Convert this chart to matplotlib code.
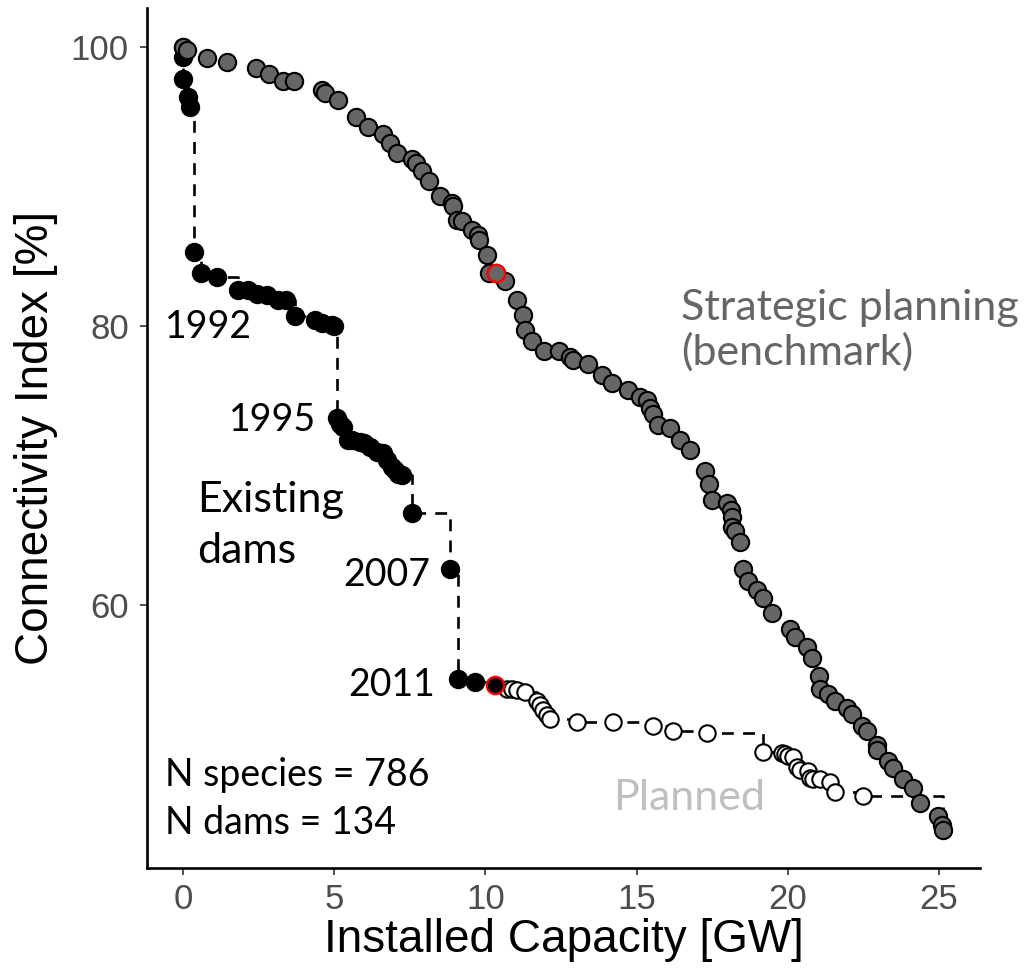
import numpy as np
import matplotlib.pyplot as plt

# strategic planning (benchmark) - installed capacity [GW] / connectivity index [%]
strat_x = [0.0, 0.12, 0.78, 1.46, 2.40, 2.85, 3.30, 3.67, 4.59, 4.70, 5.14, 5.72, 6.13,
           6.62, 6.85, 7.09, 7.56, 7.70, 7.89, 8.14, 8.50, 8.89, 8.94, 9.05, 9.22, 9.55,
           9.77, 9.80, 10.06, 10.13, 10.35, 10.65, 11.04, 11.23, 11.31, 11.53, 11.94,
           12.44, 12.80, 12.91, 13.40, 13.85, 14.18, 14.73, 15.11, 15.33, 15.44, 15.55,
           15.72, 16.10, 16.44, 16.77, 17.26, 17.40, 17.48, 17.98, 18.11, 18.14, 18.14,
           18.25, 18.42, 18.53, 18.69, 18.97, 19.19, 19.47, 20.07, 20.24, 20.63, 20.79,
           21.04, 21.06, 21.34, 21.56, 21.95, 22.11, 22.44, 22.61, 22.94, 22.94, 23.32,
           23.49, 23.82, 24.15, 24.37, 24.98, 25.09, 25.14]
strat_y = [100.0, 99.8, 99.2, 98.9, 98.5, 98.1, 97.6, 97.6, 96.9, 96.7, 96.2, 95.0, 94.3,
           93.8, 93.1, 92.4, 92.0, 91.7, 91.1, 90.4, 89.3, 88.8, 88.6, 87.6, 87.5, 86.9,
           86.5, 86.2, 85.1, 83.8, 83.8, 83.2, 81.9, 80.8, 79.7, 78.9, 78.2,
           78.2, 77.8, 77.6, 77.3, 76.5, 75.9, 75.4, 74.9, 74.7, 74.1, 73.7,
           72.9, 72.7, 71.8, 71.1, 69.6, 68.7, 67.5, 67.3, 66.8, 66.3, 65.6,
           65.3, 64.5, 62.6, 61.7, 61.1, 60.5, 59.4, 58.3, 57.7, 57.0, 56.2,
           54.9, 54.0, 53.6, 53.1, 52.6, 52.2, 51.3, 51.0, 50.0, 49.6, 48.8,
           48.3, 47.5, 46.9, 45.8, 44.9, 44.2, 43.9]
strat_red = 30  # index of highlighted dam

# existing dams (chronological)
exist_x = [0.0, 0.0, 0.0, 0.18, 0.23, 0.36, 0.60, 1.11, 1.83, 2.16, 2.44, 2.77, 3.15,
           3.41, 3.70, 4.37, 4.59, 4.92, 5.00, 5.10, 5.20, 5.30, 5.47, 5.60, 5.85, 6.00,
           6.18, 6.41, 6.60, 6.74, 6.90, 7.01, 7.10, 7.23, 7.56, 8.83, 9.10, 9.66, 10.32]
exist_y = [100.0, 99.3, 97.7, 96.4, 95.7, 85.3, 83.8, 83.5, 82.6, 82.6, 82.3, 82.2, 81.9,
           81.9, 80.7, 80.4, 80.2, 80.1, 80.0, 73.4, 73.0, 72.8, 71.8, 71.8, 71.7, 71.6,
           71.3, 71.0, 70.9, 70.4, 69.9, 69.7, 69.4, 69.3, 66.6, 62.6, 54.7, 54.5, 54.3]

# planned dams
plan_x = [10.70, 10.87, 11.04, 11.31, 11.70, 11.81, 11.91, 12.03, 12.14, 13.02, 14.23,
          15.55, 16.21, 17.32, 19.19, 19.80, 19.91, 20.02, 20.18, 20.29, 20.40, 20.68,
          20.73, 20.84, 21.06, 21.39, 21.56, 22.50, 25.14]
plan_y = [54.0, 54.0, 53.9, 53.8, 53.1, 52.8, 52.5, 52.1, 51.8, 51.6, 51.6,
          51.3, 51.0, 50.8, 49.5, 49.4, 49.3, 49.2, 49.1, 48.4, 48.2, 48.1,
          47.6, 47.5, 47.5, 47.3, 46.6, 46.3, 43.9]

year_labels = ['1992', '1995', '2007', '2011']

fig = plt.figure(figsize=(10.35, 9.68), dpi=100)
ax = fig.add_axes([0.142, 0.1033, 0.805, 0.8884])

# step line through existing + planned
path_x = exist_x + plan_x
path_y = exist_y + plan_y
ax.plot(path_x, path_y, color='black', lw=1.9, ls=(0, (4.5, 3.5)), drawstyle='steps-post', zorder=1)

ms = 155
ax.scatter(exist_x[:-1], exist_y[:-1], s=ms, facecolor='black', edgecolor='black', lw=1.5, zorder=2)
ax.scatter(plan_x, plan_y, s=140, facecolor='white', edgecolor='black', lw=1.5, zorder=3)
ax.scatter(exist_x[-1:], exist_y[-1:], s=ms, facecolor='black', edgecolor='red', lw=1.7, zorder=4)
ax.scatter(strat_x, strat_y, s=ms, facecolor='#666666', edgecolor='black', lw=1.5, zorder=5)
ax.scatter([strat_x[strat_red]], [strat_y[strat_red]], s=ms, facecolor='#666666',
           edgecolor='red', lw=1.7, zorder=6)

ax.set_xlim(-1.19, 26.36)
ax.set_ylim(41.15, 102.8)
ax.set_xticks([0, 5, 10, 15, 20, 25])
ax.set_yticks([60, 80, 100])

for s in ['top', 'right']:
    ax.spines[s].set_visible(False)
for s in ['left', 'bottom']:
    ax.spines[s].set_linewidth(1.9)
ax.tick_params(axis='both', length=5, width=1.2, color='#333333', labelcolor='#4D4D4D',
               labelsize=25)
ax.tick_params(axis='x', pad=6)
ax.tick_params(axis='y', pad=8)
for lab in ax.get_xticklabels() + ax.get_yticklabels():
    lab.set_family('Liberation Sans')

ax.set_xlabel('Installed Capacity [GW]', fontsize=33, family='Liberation Sans', labelpad=1)
ax.set_ylabel('Connectivity Index [%]', fontsize=33, family='Liberation Sans', labelpad=9)

tf = dict(family='Lato', va='center', ha='left')
ax.text(-0.6, 79.9, year_labels[0], color='black', fontsize=27, **tf)
ax.text(1.52, 73.3, year_labels[1], color='black', fontsize=27, **tf)
ax.text(5.29, 62.15, year_labels[2], color='black', fontsize=27, **tf)
ax.text(5.46, 54.3, year_labels[3], color='black', fontsize=27, **tf)
ax.text(0.46, 65.7, 'Existing\ndams', color='black', fontsize=31, linespacing=1.4, **tf)
ax.text(-0.6, 47.8, 'N species = 786', color='black', fontsize=27, **tf)
ax.text(-0.6, 44.4, 'N dams = 134', color='black', fontsize=27, **tf)
ax.text(14.22, 46.2, 'Planned', color='#BFBFBF', fontsize=31, **tf)
ax.text(16.47, 79.7, 'Strategic planning\n(benchmark)', color='#666666', fontsize=31,
        linespacing=1.16, **tf)

fig.savefig('out.png', dpi=100)
